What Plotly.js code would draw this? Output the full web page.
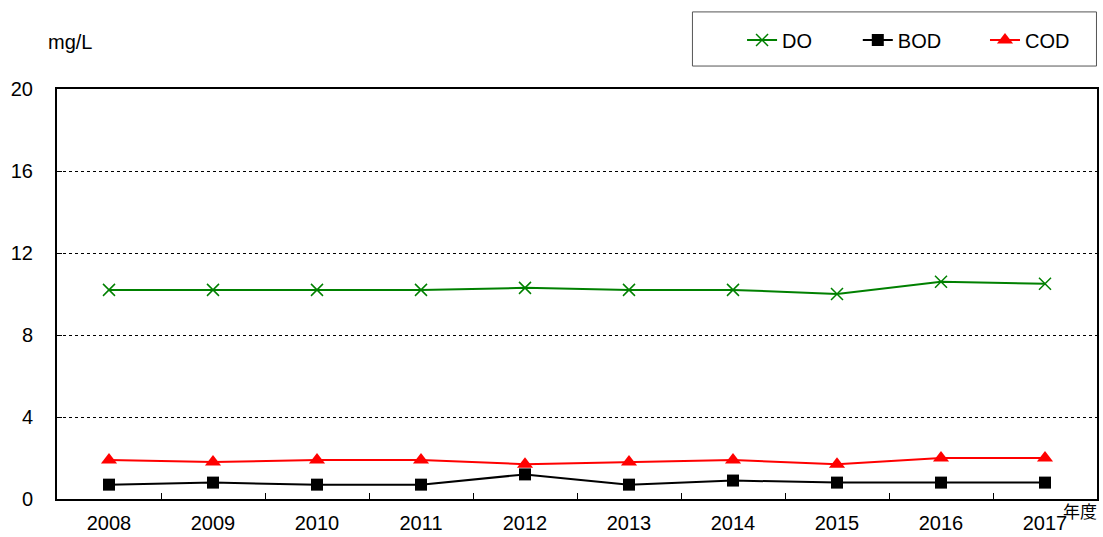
<!DOCTYPE html>
<html><head><meta charset="utf-8">
<script src="https://cdn.plot.ly/plotly-3.0.1.min.js"></script>
<style>body{margin:0;padding:0;background:#fff}#chart{width:1103px;height:537px}</style>
</head><body><div id="chart"></div>
<script>
const years = ['2008','2009','2010','2011','2012','2013','2014','2015','2016','2017'];
const doValues  = [10.2,10.2,10.2,10.2,10.3,10.2,10.2,10.0,10.6,10.5];
const bodValues = [0.7,0.8,0.7,0.7,1.2,0.7,0.9,0.8,0.8,0.8];
const codValues = [1.9,1.8,1.9,1.9,1.7,1.8,1.9,1.7,2.0,2.0];
const yTicks = [0,4,8,12,16,20];

const font = {family:'Liberation Sans, Arial, sans-serif', size:20, color:'#000'};
const traces = [
  {x:years, y:doValues, name:'DO', mode:'lines+markers', legend:'legend',
   line:{color:'#008000', width:2}, marker:{symbol:'x-thin', size:12, color:'#008000', line:{color:'#008000', width:1.5}}},
  {x:years, y:bodValues, name:'BOD', mode:'lines+markers', legend:'legend2',
   line:{color:'#000000', width:2}, marker:{symbol:'square', size:12, color:'#000000'}},
  {x:years, y:codValues, name:'COD', mode:'lines+markers', legend:'legend3',
   line:{color:'#ff0000', width:2}, marker:{symbol:'triangle-up', size:14, color:'#ff0000'}}
];
const legBase = {orientation:'h', yanchor:'middle', y:1.1195, xanchor:'left', bgcolor:'rgba(0,0,0,0)', borderwidth:0, font:font, itemwidth:30};
const layout = {
  width:1103, height:537,
  margin:{l:57, r:6, t:89, b:38, autoexpand:false},
  paper_bgcolor:'#fff', plot_bgcolor:'#fff',
  font:font,
  showlegend:true,
  legend: Object.assign({}, legBase, {x:0.6587}),
  legend2: Object.assign({}, legBase, {x:0.770}),
  legend3: Object.assign({}, legBase, {x:0.8923}),
  xaxis:{type:'category', range:[-0.5,9.5], showline:true, linecolor:'#000', linewidth:2, mirror:true,
         ticks:'inside', tickson:'boundaries', ticklen:6, tickcolor:'#000', tickwidth:1,
         showgrid:false, zeroline:false, tickfont:font, ticklabelstandoff:5, fixedrange:true},
  yaxis:{range:[0,20], tickvals:yTicks, showline:true, linecolor:'#000', linewidth:2, mirror:true,
         ticks:'inside', ticklen:5, tickcolor:'#000', tickwidth:1,
         showgrid:true, gridcolor:'#000', gridwidth:1, griddash:'dot',
         zeroline:false, tickfont:font, ticklabelstandoff:18, fixedrange:true},
  shapes:[{type:'rect', xref:'paper', yref:'paper', x0:0.611, x1:0.9995, y0:1.056, y1:1.188,
           line:{color:'#555', width:1}, fillcolor:'rgba(0,0,0,0)'}],
  annotations:[
    {text:'mg/L', xref:'paper', yref:'paper', x:0.0125, y:1.115, xanchor:'center', yanchor:'middle', showarrow:false, font:font},
    {text:'年度', xref:'paper', yref:'paper', x:1.002, y:-0.028, xanchor:'right', yanchor:'middle', showarrow:false,
     font:{family:'Noto Sans CJK JP, sans-serif', size:17, color:'#000'}}
  ]
};
Plotly.newPlot('chart', traces, layout, {displayModeBar:false, staticPlot:true});
</script></body></html>
